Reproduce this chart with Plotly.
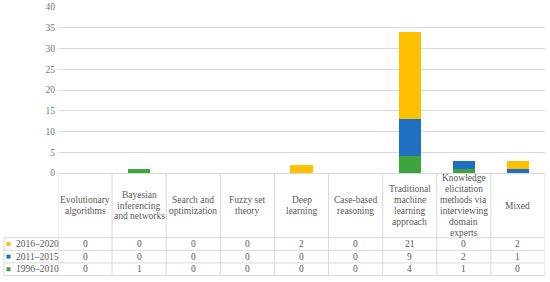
import plotly.graph_objects as go

categories = [
    "Evolutionary<br>algorithms",
    "Bayesian<br>inferencing<br>and networks",
    "Search and<br>optimization",
    "Fuzzy set<br>theory",
    "Deep<br>learning",
    "Case-based<br>reasoning",
    "Traditional<br>machine<br>learning<br>approach",
    "Knowledge<br>elicitation<br>methods via<br>interviewing<br>domain<br>experts",
    "Mixed",
]
series_names = ["2016–2020", "2011–2015", "1996–2010"]
v_2016_2020 = [0, 0, 0, 0, 2, 0, 21, 0, 2]
v_2011_2015 = [0, 0, 0, 0, 0, 0, 9, 2, 1]
v_1996_2010 = [0, 1, 0, 0, 0, 0, 4, 1, 0]
series_values = [v_2016_2020, v_2011_2015, v_1996_2010]
series_colors = ["#FFC000", "#1F6FC5", "#3DA53D"]

W, H = 550, 282
L, R, T, B = 58, 5, 7, 109
plot_h = H - T - B  # pixels
plot_w = W - L - R
FONT = "Liberation Serif"
TXT = "#595959"
LINE = "#d9d9d9"


def py(p):
    """pixel y -> paper y"""
    return (H - B - p) / plot_h


def px(p):
    return (p - L) / plot_w


fig = go.Figure()
# stack from bottom: oldest first
for name, vals, col in reversed(list(zip(series_names, series_values, series_colors))):
    fig.add_trace(go.Bar(x=list(range(len(categories))), y=vals, name=name,
                         marker=dict(color=col, line=dict(width=0)), showlegend=False,
                         hoverinfo="skip"))

shapes = []
annotations = []
n = len(categories)
header_bottom = 237.7
row_lines = [header_bottom, 250.3, 262.9, 275.6]

# vertical lines of table
for i in range(n + 1):
    shapes.append(dict(type="line", xref="x", yref="paper", x0=i - 0.5, x1=i - 0.5,
                       y0=0, y1=py(row_lines[-1]), line=dict(color=LINE, width=1)))
# left border of label column
shapes.append(dict(type="line", xref="paper", yref="paper", x0=px(4), x1=px(4),
                   y0=py(row_lines[0]), y1=py(row_lines[-1]), line=dict(color=LINE, width=1)))
# horizontal lines
for yl in row_lines:
    shapes.append(dict(type="line", xref="paper", yref="paper", x0=px(4), x1=1,
                       y0=py(yl), y1=py(yl), line=dict(color=LINE, width=1)))

# header text
line_h = 10.9
center = 205.5
for i, cat in enumerate(categories):
    parts = cat.split("<br>")
    k = len(parts)
    for j, t in enumerate(parts):
        yc = center + (j - (k - 1) / 2) * line_h
        annotations.append(dict(x=i, y=py(yc), xref="x", yref="paper", text=t,
                                showarrow=False, xanchor="center", yanchor="middle",
                                font=dict(family=FONT, size=9.5, color=TXT)))

# rows
for r, (name, vals, col) in enumerate(zip(series_names, series_values, series_colors)):
    yc = (row_lines[r] + row_lines[r + 1]) / 2
    for i, v in enumerate(vals):
        annotations.append(dict(x=i, y=py(yc), xref="x", yref="paper", text=str(v),
                                showarrow=False, xanchor="center", yanchor="middle",
                                font=dict(family=FONT, size=9.5, color=TXT)))
    shapes.append(dict(type="rect", xref="paper", yref="paper", x0=px(6.5), x1=px(10.5),
                       y0=py(yc - 2), y1=py(yc + 2), fillcolor=col, line=dict(width=0)))
    annotations.append(dict(x=px(14), y=py(yc), xref="paper", yref="paper", text=name,
                            showarrow=False, xanchor="left", yanchor="middle",
                            font=dict(family=FONT, size=9.5, color=TXT)))

fig.update_layout(
    width=W, height=H,
    margin=dict(l=L, r=R, t=T, b=B, pad=0, autoexpand=False),
    paper_bgcolor="white", plot_bgcolor="white",
    barmode="stack", bargap=0.59,
    shapes=shapes, annotations=annotations,
    font=dict(family=FONT, color=TXT),
)
fig.update_xaxes(range=[-0.5, n - 0.5], showticklabels=False, ticks="", automargin=False,
                 showgrid=False, showline=True, linecolor=LINE, linewidth=1, zeroline=False)
fig.update_yaxes(range=[0, 40], dtick=5, showgrid=True, gridcolor=LINE, gridwidth=1,
                 zeroline=False, showline=False, ticks="", automargin=False,
                 ticklabelstandoff=2,
                 tickfont=dict(family=FONT, size=9.5, color="#767676"))

fig.write_html("out.html", config={"displayModeBar": False},
               post_script="document.body.style.margin='0';")
